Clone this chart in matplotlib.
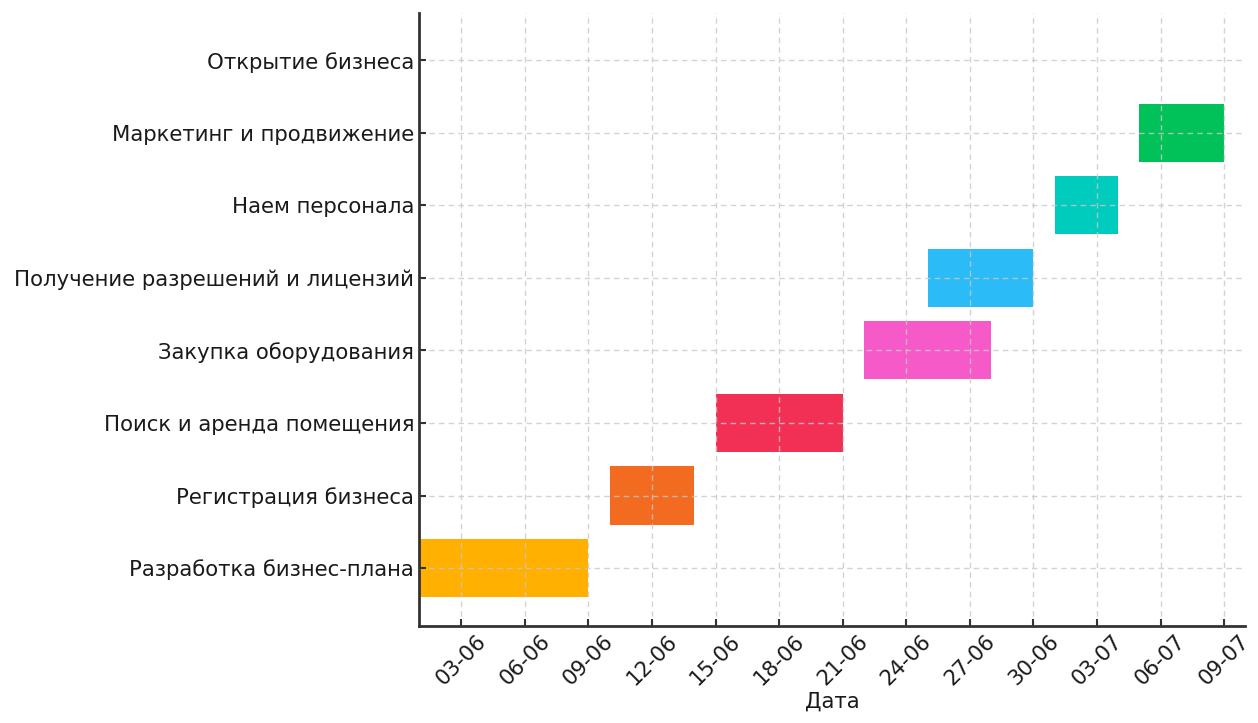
import matplotlib
matplotlib.use("Agg")
import matplotlib.pyplot as plt
import matplotlib.dates as mdates
import pandas as pd

# ---- data ------------------------------------------------------------------
tasks = [
    "Разработка бизнес-плана",
    "Регистрация бизнеса",
    "Поиск и аренда помещения",
    "Закупка оборудования",
    "Получение разрешений и лицензий",
    "Наем персонала",
    "Маркетинг и продвижение",
    "Открытие бизнеса",
]
starts = ["2024-06-01", "2024-06-10", "2024-06-15", "2024-06-22",
          "2024-06-25", "2024-07-01", "2024-07-05", "2024-07-10"]
ends = ["2024-06-09", "2024-06-14", "2024-06-21", "2024-06-28",
        "2024-06-30", "2024-07-04", "2024-07-09", "2024-07-10"]
colors = ["#FFB000", "#F26B21", "#F23056", "#F65AC8",
          "#2BBCF7", "#00CCBE", "#00C259", "#8E44AD"]

start_dt = pd.to_datetime(starts)
end_dt = pd.to_datetime(ends)
left = mdates.date2num(start_dt)
width = mdates.date2num(end_dt) - left

fig = plt.figure(figsize=(12.58, 7.23), dpi=100)
ax = fig.add_axes([0.333, 0.134, 0.657, 0.848])

ax.barh(range(len(tasks)), width, left=left, height=0.8, color=colors, zorder=1)

ax.set_yticks(range(len(tasks)))
ax.set_yticklabels(tasks, fontsize=15.3, color="#1a1a1a")
ax.set_ylim(-0.8, 7.65)

ticks = pd.date_range("2024-06-03", "2024-07-09", freq="3D")
ax.set_xticks(mdates.date2num(ticks))
ax.xaxis.set_major_formatter(mdates.DateFormatter("%d-%m"))
ax.set_xlim(mdates.date2num(pd.Timestamp("2024-06-01")),
            mdates.date2num(pd.Timestamp("2024-07-10")))
plt.setp(ax.get_xticklabels(), rotation=45, fontsize=15.3, color="#1a1a1a")
ax.set_xlabel("Дата", fontsize=15.3, color="#1a1a1a", labelpad=2)

# grid sits over the bars, faint
ax.set_axisbelow(False)
ax.grid(True, linestyle=(0, (4, 3)), color="#c8c8c8", linewidth=1, alpha=0.8)
ax.tick_params(direction="in", length=5, width=1.5, colors="#333333",
               labelcolor="#1a1a1a")
for s in ("top", "right"):
    ax.spines[s].set_visible(False)
for s in ("left", "bottom"):
    ax.spines[s].set_linewidth(2)
    ax.spines[s].set_color("#333333")

fig.savefig("out.png", dpi=100)
